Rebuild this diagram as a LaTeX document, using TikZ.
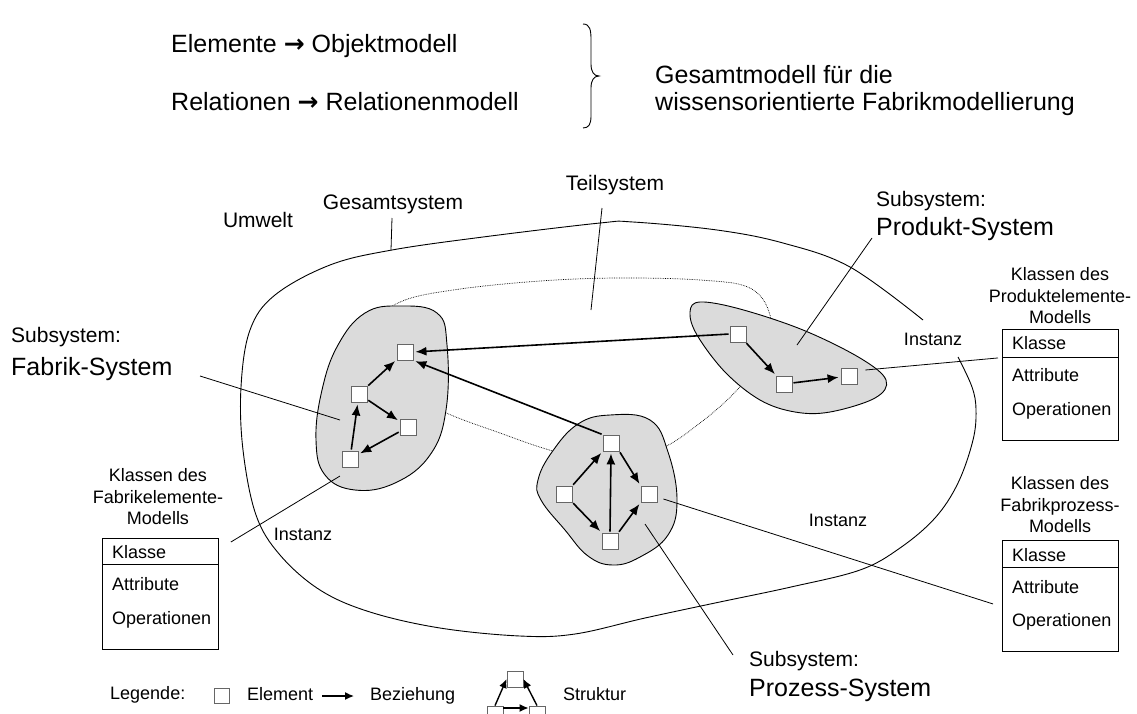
\documentclass[tikz,border=0pt]{standalone}
\usepackage{fontspec}
\setmainfont{Liberation Sans}
\newfontfamily\arrowfont{DejaVu Sans}
\newcommand{\toarrow}{{\arrowfont\bfseries →}}
\usetikzlibrary{arrows.meta,calc}
\begin{document}
\begin{tikzpicture}[x=1pt,y=-1pt,
  elem/.style={draw=black!60, fill=white, line width=0.9pt, minimum size=16pt, inner sep=0pt},
  rel/.style={-{Latex[length=11pt,width=9pt]}, line width=1.6pt, shorten >=2pt, shorten <=1pt},
  lead/.style={line width=0.8pt},
  blob/.style={draw=black, line width=0.9pt, fill=black!14},
  lbl/.style={font=\fontsize{21}{24}\selectfont, inner sep=0pt},
  big/.style={font=\fontsize{25}{29}\selectfont, inner sep=0pt},
  small/.style={font=\fontsize{18}{21}\selectfont, inner sep=0pt},
  head/.style={font=\fontsize{25}{29}\selectfont, inner sep=0pt, anchor=west},
  cls/.style={font=\fontsize{18}{21.5}\selectfont, inner sep=0pt, align=center},
  umlbox/.style={draw=black, line width=0.9pt, minimum width=116pt, minimum height=111pt, anchor=north west, inner sep=0pt},
  legsq/.style={draw=black!60, fill=white, line width=0.8pt, minimum size=15pt, inner sep=0pt},
  legarr/.style={-{Latex[length=9pt,width=8pt]}, line width=1.4pt}
]
\useasboundingbox (0,0) rectangle (1137,713);

% ---- heading ----
\node[head] (h1) at (171,46) {Elemente \toarrow{} Objektmodell};
\node[head] (h2) at (171,102) {Relationen \toarrow{} Relationenmodell};
\draw[line width=0.9pt] (583,24) .. controls (590,24) and (591,30) .. (591,40) -- (591,64)
  .. controls (591,72) and (594,76) .. (599,76) .. controls (594,76) and (591,80) .. (591,88)
  -- (591,116) .. controls (591,124) and (589,128) .. (583,128);
\node[head] (h3) at (655,75) {Gesamtmodell für die};
\node[head] (h4) at (655,104) {wissensorientierte Fabrikmodellierung};

% ---- overall system boundary (open at the right for the label) ----
\draw[line width=0.9pt] plot[smooth, tension=0.6] coordinates {
  (923,320) (850,267) (783,243) (717,230) (633,222) (600,223) (483,237) (392,250)
  (330,265) (275,295) (250,330) (241,387) (243,450) (256,515) (280,555) (320,590)
  (370,612) (440,628) (520,636) (575,634) (645,618) (715,603) (791,587) (860,570)
  (900,548) (935,518) (958,483) (973,440) (976,410) (972,387) (958,357)};

% ---- subsystem of interest (dotted) ----
\draw[densely dotted, line width=0.7pt] plot[smooth cycle, tension=0.6] coordinates {
  (378,320) (405,300) (460,289) (540,281) (617,278) (700,280) (750,288) (770,315)
  (767,350) (737,390) (700,423) (660,449) (610,460) (557,452) (500,433) (440,410)
  (388,378) (370,355)};

% ---- subsystems ----
\draw[blob] plot[smooth cycle, tension=0.7] coordinates {
  (365,313) (400,306) (437,313) (447,345) (446,410) (430,455) (395,483) (355,490)
  (325,475) (316,440) (322,390) (338,345)};
\draw[blob] plot[smooth cycle, tension=0.6] coordinates {
  (700,302) (740,309) (803,330) (860,358) (886,380) (875,398) (830,412) (795,412)
  (760,400) (725,372) (697,335) (690,312)};
\draw[blob] plot[smooth cycle, tension=0.7] coordinates {
  (610,415) (650,420) (668,452) (677,500) (668,535) (640,557) (613,565) (588,556)
  (565,530) (541,500) (538,480) (552,452) (578,424)};

% ---- elements ----
\node[elem] (A) at (405,352) {};
\node[elem] (B) at (359,394) {};
\node[elem] (C) at (408,427) {};
\node[elem] (D) at (350,459) {};
\node[elem] (P1) at (738,334) {};
\node[elem] (P2) at (784,384) {};
\node[elem] (P3) at (849,376) {};
\node[elem] (Q1) at (611,443) {};
\node[elem] (Q2) at (564,494) {};
\node[elem] (Q3) at (649,494) {};
\node[elem] (Q4) at (610,541) {};

% ---- relations ----
\draw[rel] (B) -- (A);
\draw[rel] (B) -- (C);
\draw[rel] (C) -- (D);
\draw[rel] (D) -- (B);
\draw[rel] (P1) -- (P2);
\draw[rel] (P2) -- (P3);
\draw[rel] (P1.west) -- (A.east);
\draw[rel] (Q1.north west) -- (A.south east);
\draw[rel] (Q2.north east) -- (Q1.south west);
\draw[rel] (Q4.north) -- (Q1.south);
\draw[rel] (Q1.south east) -- (Q3.north west);
\draw[rel] (Q2.south east) -- (Q4.north west);
\draw[rel] (Q4.north east) -- (Q3.south west);

% ---- labels ----
\node[lbl] (umw) at (258,220) {Umwelt};
\node[lbl] (ges) at (393,204) {Gesamtsystem};
\node[lbl] (teil) at (615,185) {Teilsystem};
\node[lbl, anchor=west] (sp1) at (876,201) {Subsystem:};
\node[big, anchor=west] (sp2) at (876,229) {Produkt-System};
\node[lbl, anchor=west] (sf1) at (11,337) {Subsystem:};
\node[big, anchor=west] (sf2) at (11,369) {Fabrik-System};
\node[lbl, anchor=west] (sq1) at (749,661) {Subsystem:};
\node[big, anchor=west] (sq2) at (749,690) {Prozess-System};

\coordinate (gesE) at (391,250);
\draw[lead] (392,218) -- (gesE);
\coordinate (teilE) at (591,310);
\draw[lead] (602,208) -- (teilE);
\coordinate (spE) at (797,345);
\draw[lead] (872,238) -- (spE);
\coordinate (sfE) at (340,420);
\draw[lead] (200,376) -- (sfE);
\coordinate (sqE) at (645,524);
\draw[lead] (733,655) -- (sqE);

% ---- class boxes ----
\node[cls] (kP) at (1060,296) {Klassen des\\Produktelemente-\\Modells};
\node[umlbox] (bP) at (1002,329) {};
\draw[line width=0.9pt] (bP.west |- 0,357) -- (bP.east |- 0,357);
\node[small, anchor=west] at (1012,343) {Klasse};
\node[small, anchor=west] at (1012,375) {Attribute};
\node[small, anchor=west] at (1012,411) {Operationen};

\node[cls] (kF) at (158,497) {Klassen des\\Fabrikelemente-\\Modells};
\node[umlbox] (bF) at (102,538) {};
\draw[line width=0.9pt] (bF.west |- 0,564) -- (bF.east |- 0,564);
\node[small, anchor=west] at (112,552) {Klasse};
\node[small, anchor=west] at (112,584) {Attribute};
\node[small, anchor=west] at (112,620) {Operationen};

\node[cls] (kQ) at (1060,505) {Klassen des\\Fabrikprozess-\\Modells};
\node[umlbox] (bQ) at (1002,540) {};
\draw[line width=0.9pt] (bQ.west |- 0,567) -- (bQ.east |- 0,567);
\node[small, anchor=west] at (1012,555) {Klasse};
\node[small, anchor=west] at (1012,587) {Attribute};
\node[small, anchor=west] at (1012,622) {Operationen};

% ---- instance links ----
\node[small] (i1) at (933,339) {Instanz};
\node[small] (i2) at (303,534) {Instanz};
\node[small] (i3) at (838,520) {Instanz};
\draw[lead] ($(P3.east)+(8,-6)$) -- ($(bP.west)+(-4,-27)$);
\draw[lead] ($(bF.north east)+(12,4)$) -- (340,476);
\draw[lead] ($(Q3.east)+(6,5)$) -- ($(bQ.west)+(-9,8)$);

% ---- legend ----
\node[small, anchor=west] (leg) at (110,695) {Legende:};
\node[legsq] (lsq) at (222,696) {};
\node[small, anchor=west] (lel) at (247,694) {Element};
\coordinate (la1) at (322,696);
\coordinate (la2) at (354,696);
\draw[legarr] (la1) -- (la2);
\node[small, anchor=west] (lbz) at (370,696) {Beziehung};
\node[legsq, minimum size=16pt] (s1) at (515,679) {};
\node[legsq, minimum size=16pt] (s2) at (495,714) {};
\node[legsq, minimum size=16pt] (s3) at (537,714) {};
\draw[legarr] (s2.north) -- (s1.west);
\draw[legarr] (s3.north) -- (s1.east);
\draw[legarr] (s2.east |- 0,708) -- (s3.west |- 0,708);
\node[small, anchor=west] (lst) at (563,694) {Struktur};
\end{tikzpicture}
\end{document}
